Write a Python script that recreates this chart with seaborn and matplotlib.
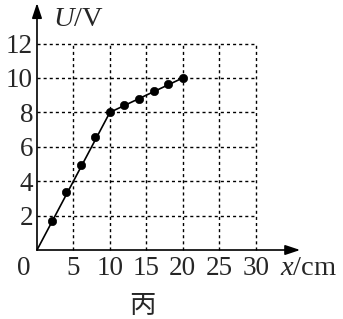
import matplotlib
matplotlib.use("Agg")
import matplotlib.pyplot as plt
import seaborn as sns
import pandas as pd

# data
x_cm = [2, 4, 6, 8, 10, 12, 14, 16, 18, 20]
u_v = [1.7, 3.35, 4.95, 6.55, 8.0, 8.45, 8.8, 9.25, 9.65, 10.0]
fit_x = [0, 10, 20]
fit_u = [0, 8, 10]
x_ticks = [5, 10, 15, 20, 25, 30]
y_ticks = [2, 4, 6, 8, 10, 12]

sns.set_style("white")
plt.rcParams['font.family'] = ['Liberation Serif', 'Noto Sans CJK SC', 'DejaVu Sans']
plt.rcParams['mathtext.fontset'] = 'custom'
plt.rcParams['mathtext.it'] = 'Liberation Serif:italic'
plt.rcParams['mathtext.rm'] = 'Liberation Serif'

FS = 19.5
LFS = 20.5

fig = plt.figure(figsize=(3.43, 3.19), dpi=100)
ax = fig.add_axes([0, 0, 1, 1])
ax.set_xlim(-5.075, 41.98)
ax.set_ylim(-4.01, 14.53)

# dashed grid
ax.vlines(x_ticks, 0, max(y_ticks), colors='black', linestyles=(0, (2.2, 2.2)), linewidth=1.0)
ax.hlines(y_ticks, 0, max(x_ticks), colors='black', linestyles=(0, (2.2, 2.2)), linewidth=1.0)

df_fit = pd.DataFrame({'x': fit_x, 'u': fit_u})
df_pts = pd.DataFrame({'x': x_cm, 'u': u_v})
sns.lineplot(data=df_fit, x='x', y='u', ax=ax, color='black', linewidth=1.2)
sns.scatterplot(data=df_pts, x='x', y='u', ax=ax, color='black', s=36, edgecolor='black', zorder=5)

# axes with arrows
for s in ['top', 'right', 'left', 'bottom']:
    ax.spines[s].set_visible(False)
ax.annotate('', xy=(36.1, 0), xytext=(0, 0),
            arrowprops=dict(arrowstyle='-|>,head_length=0.9,head_width=0.3', color='black', lw=1.2, shrinkA=0, shrinkB=0))
ax.annotate('', xy=(0, 14.35), xytext=(0, 0),
            arrowprops=dict(arrowstyle='-|>,head_length=0.9,head_width=0.3', color='black', lw=1.2, shrinkA=0, shrinkB=0))

ax.set_xticks(x_ticks)
ax.set_yticks(y_ticks)
ax.set_xticklabels([str(t) for t in x_ticks])
ax.set_yticklabels([str(t) for t in y_ticks])
ax.tick_params(axis='both', length=0, labelsize=FS)
ax.tick_params(axis='y', pad=-23.8, labelleft=True)
ax.tick_params(axis='x', pad=-45.5, labelbottom=True)
ax.set_xlabel('')
ax.set_ylabel('')

ax.text(-1.8, -1.05, '0', fontsize=FS, ha='center', va='center')
ax.text(33.3, -1.05, r'$\mathit{x}$/cm', fontsize=LFS, ha='left', va='center')
ax.text(2.2, 13.4, r'$\mathit{U}$/V', fontsize=LFS, ha='left', va='center')
ax.text(14.5, -3.2, '丙', fontsize=19, ha='center', va='center', family=['Noto Sans CJK SC'])

fig.savefig('out.png', dpi=100)
